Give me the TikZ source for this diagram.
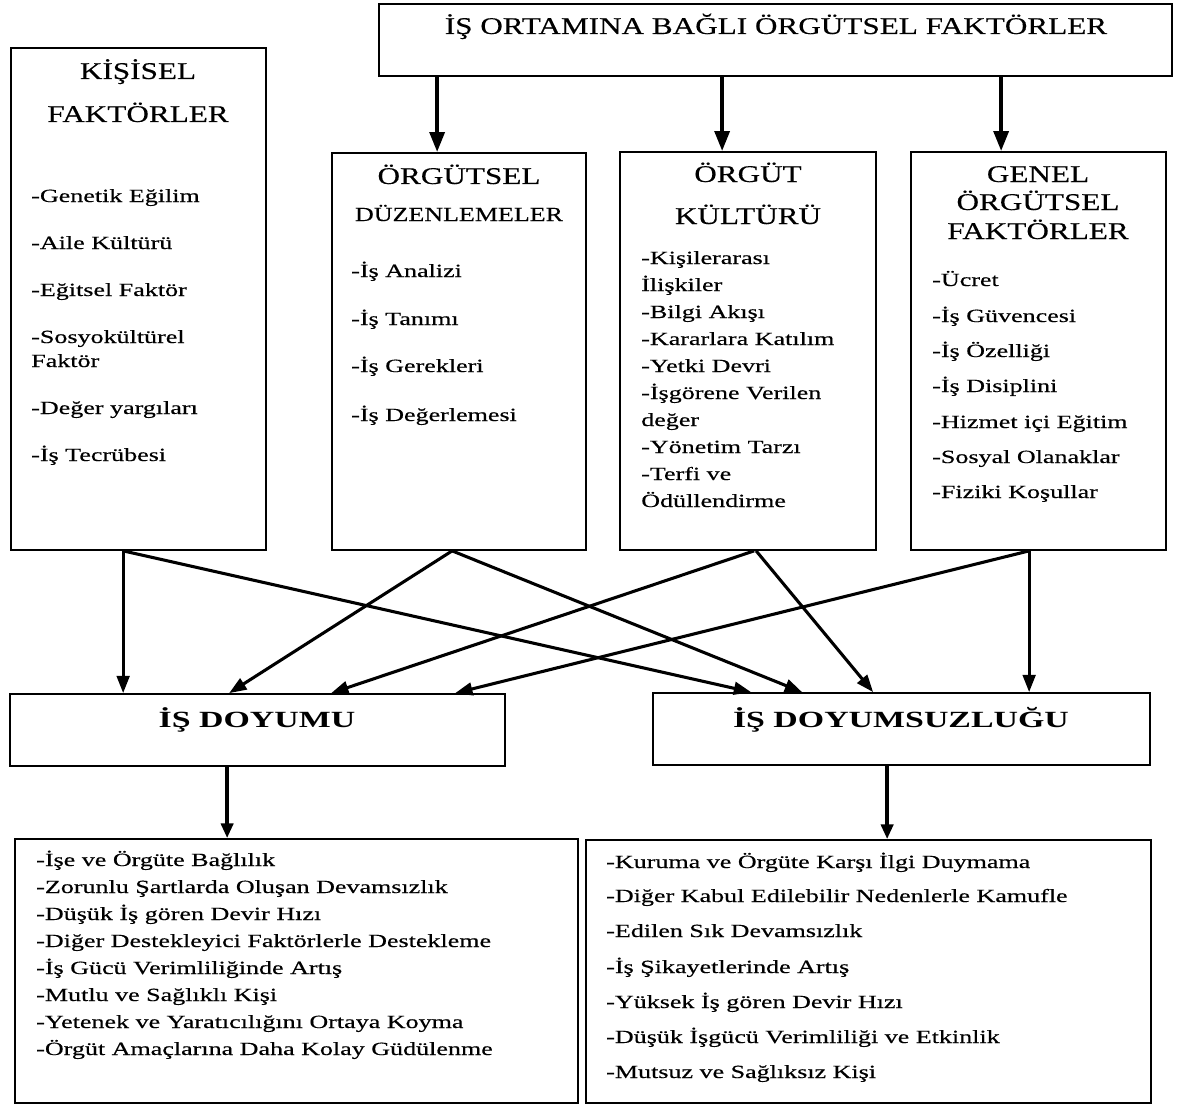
\documentclass[tikz,border=0pt]{standalone}
\usepackage{fontspec}
\setmainfont{Liberation Serif}
\newfontfamily\itemfam[FakeStretch=1.4,FakeBold=0.4]{Liberation Serif}
\newfontfamily\titlefam[FakeStretch=1.3,FakeBold=0.3]{Liberation Serif}
\newfontfamily\boldfam[FakeStretch=1.46]{Liberation Serif}
\usetikzlibrary{arrows.meta,fit,calc}
\begin{document}
\begin{tikzpicture}[x=0.75pt,y=-0.75pt,
  box/.style={draw, line width=1.3pt, inner sep=0pt},
  itm/.style={anchor=base west, inner sep=0pt, font=\itemfam\fontsize{13.95}{16}\selectfont},
  ttl/.style={anchor=base, inner sep=0pt, font=\titlefam\fontsize{18}{20}\selectfont},
  sttl/.style={anchor=base, inner sep=0pt, font=\titlefam\fontsize{15}{18}\selectfont},
  bttl/.style={anchor=base, inner sep=0pt, font=\boldfam\bfseries\fontsize{17.4}{20}\selectfont},
  bigarr/.style={line width=3pt, -{Triangle[length=15pt,width=11pt]}},
  midarr/.style={line width=2.3pt, -{Triangle[length=13pt,width=9.5pt]}},
  lowarr/.style={line width=3pt, -{Triangle[length=11pt,width=9pt]}}
]
\useasboundingbox (0,0) rectangle (1183,1106);

% boxes
\node[box, fit={(379,4) (1172,76)}] (top) {};
\node[box, fit={(11,48) (266,550)}] (kis) {};
\node[box, fit={(332,153) (586,550)}] (dz) {};
\node[box, fit={(620,152) (876,550)}] (kul) {};
\node[box, fit={(911,152) (1166,550)}] (gen) {};
\node[box, fit={(10,694) (505,766)}] (doy) {};
\node[box, fit={(653,693) (1150,765)}] (dsz) {};
\node[box, fit={(15,839) (578,1103)}] (res1) {};
\node[box, fit={(586,840) (1151,1103)}] (res2) {};

% titles
\node[ttl] (toptitle) at (776,34) {İŞ ORTAMINA BAĞLI ÖRGÜTSEL FAKTÖRLER};
\node[ttl] (kisT1) at (138,79) {KİŞİSEL};
\node[ttl] (kisT2) at (138,122) {FAKTÖRLER};
\node[ttl] (dzT1) at (459,184) {ÖRGÜTSEL};
\node[sttl] (dzT2) at (459,221) {DÜZENLEMELER};
\node[ttl] (kulT1) at (748,182) {ÖRGÜT};
\node[ttl] (kulT2) at (748,224) {KÜLTÜRÜ};
\node[ttl] (genT1) at (1038,182) {GENEL};
\node[ttl] (genT2) at (1038,210) {ÖRGÜTSEL};
\node[ttl] (genT3) at (1038,239) {FAKTÖRLER};
\node[bttl] (doyT) at (257,727) {İŞ DOYUMU};
\node[bttl] (dszT) at (901,727) {İŞ DOYUMSUZLUĞU};

% items
\foreach \yy/\itext [count=\i] in {202/-Genetik Eğilim, 249/-Aile Kültürü, 296/-Eğitsel Faktör,
  343/-Sosyokültürel, 367/Faktör, 414/-Değer yargıları, 461/-İş Tecrübesi}
  \node[itm] (kis\i) at (31,\yy) {\itext};

\foreach \yy/\itext [count=\i] in {277/-İş Analizi, 325/-İş Tanımı, 372/-İş Gerekleri, 421/-İş Değerlemesi}
  \node[itm] (dz\i) at (351,\yy) {\itext};

\foreach \yy/\itext [count=\i] in {264/-Kişilerarası, 291/İlişkiler, 318/-Bilgi Akışı,
  345/-Kararlara Katılım, 372/-Yetki Devri, 399/-İşgörene Verilen, 426/değer,
  453/-Yönetim Tarzı, 480/-Terfi ve, 507/Ödüllendirme}
  \node[itm] (kul\i) at (641,\yy) {\itext};

\foreach \yy/\itext [count=\i] in {286/-Ücret, 322/-İş Güvencesi, 357/-İş Özelliği,
  392/-İş Disiplini, 428/-Hizmet içi Eğitim, 463/-Sosyal Olanaklar, 498/-Fiziki Koşullar}
  \node[itm] (gen\i) at (932,\yy) {\itext};

\foreach \yy/\itext [count=\i] in {866/-İşe ve Örgüte Bağlılık,
  893/-Zorunlu Şartlarda Oluşan Devamsızlık,
  920/-Düşük İş gören Devir Hızı,
  947/-Diğer Destekleyici Faktörlerle Destekleme,
  974/-İş Gücü Verimliliğinde Artış,
  1001/-Mutlu ve Sağlıklı Kişi,
  1028/-Yetenek ve Yaratıcılığını Ortaya Koyma,
  1055/-Örgüt Amaçlarına Daha Kolay Güdülenme}
  \node[itm] (ra\i) at (36,\yy) {\itext};

\foreach \yy/\itext [count=\i] in {868/-Kuruma ve Örgüte Karşı İlgi Duymama,
  902/-Diğer Kabul Edilebilir Nedenlerle Kamufle,
  937/-Edilen Sık Devamsızlık,
  973/-İş Şikayetlerinde Artış,
  1008/-Yüksek İş gören Devir Hızı,
  1043/-Düşük İşgücü Verimliliği ve Etkinlik,
  1078/-Mutsuz ve Sağlıksız Kişi}
  \node[itm] (rb\i) at (606,\yy) {\itext};

% arrows from top box
\draw[bigarr] ($(top.south west)+(59,0)$) -- ($(dz.north west)+(106,0)$);
\draw[bigarr] ($(top.south west)+(344,0)$) -- ($(kul.north west)+(103,0)$);
\draw[bigarr] ($(top.south west)+(623,0)$) -- ($(gen.north west)+(91,0)$);

% crossing arrows
\draw[midarr] ($(kis.south west)+(113,0)$) -- ($(doy.north west)+(114,0)$);
\draw[midarr] ($(kis.south west)+(113,0)$) -- ($(dsz.north west)+(99,0)$);
\draw[midarr] ($(dz.south west)+(121,0)$) -- ($(doy.north west)+(220,0)$);
\draw[midarr] ($(dz.south west)+(121,0)$) -- ($(dsz.north west)+(150,0)$);
\draw[midarr] ($(kul.south west)+(135,0)$) -- ($(doy.north west)+(322,0)$);
\draw[midarr] ($(kul.south west)+(137,0)$) -- ($(dsz.north west)+(221,0)$);
\draw[midarr] ($(gen.south west)+(119,0)$) -- ($(doy.north west)+(446,0)$);
\draw[midarr] ($(gen.south west)+(119,0)$) -- ($(dsz.north west)+(377,0)$);

% arrows to result boxes
\draw[lowarr] ($(doy.south west)+(218,0)$) -- ($(res1.north west)+(213,0)$);
\draw[lowarr] ($(dsz.south west)+(235,0)$) -- ($(res2.north west)+(302,0)$);
\end{tikzpicture}
\end{document}
